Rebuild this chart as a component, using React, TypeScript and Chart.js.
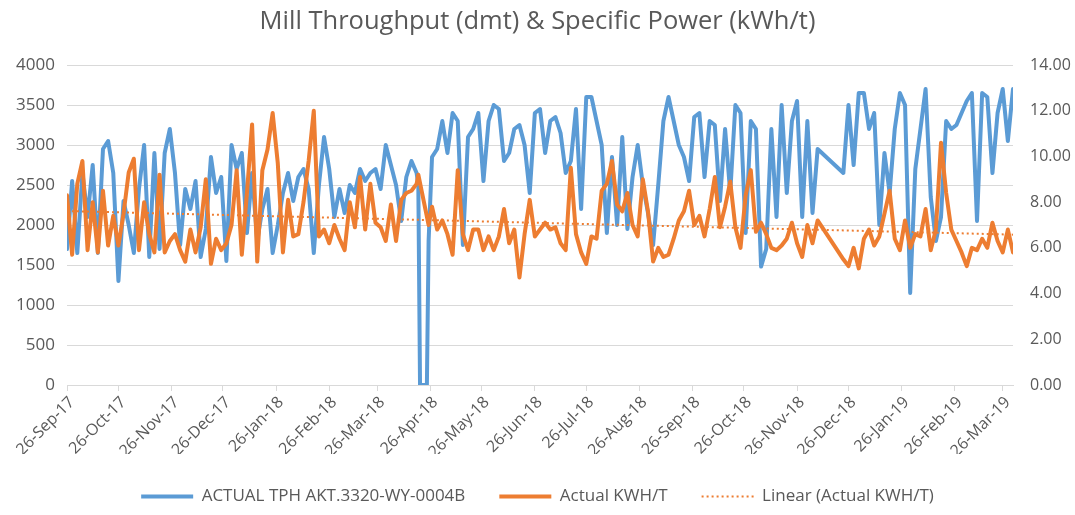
import React, { useEffect, useRef } from "react";
import { Chart, registerables } from "chart.js";

Chart.register(...registerables);

const START_DATE = new Date(2017, 8, 26);
const AXIS_END_DAY = 552;

const dayOffsets: number[] = [
  0, 3, 6, 9, 12, 15, 18, 21, 24, 27, 30, 33, 36, 39, 42, 45, 48, 51, 54, 57,
  60, 63, 66, 69, 72, 75, 78, 81, 84, 87, 90, 93, 96, 99, 102, 105, 108, 111, 114, 117,
  120, 123, 126, 129, 132, 135, 138, 141, 144, 147, 150, 153, 156, 159, 162, 165, 168, 171, 174, 177,
  180, 183, 186, 189, 192, 195, 198, 201, 204, 205, 206, 207, 210, 211, 213, 216, 219, 222, 225, 228,
  231, 234, 237, 240, 243, 246, 249, 252, 255, 258, 261, 264, 267, 270, 273, 276, 279, 282, 285, 288,
  291, 294, 297, 300, 303, 306, 309, 312, 315, 318, 321, 324, 327, 330, 333, 336, 339, 342, 345, 348,
  351, 354, 357, 360, 363, 366, 369, 372, 375, 378, 381, 384, 387, 390, 393, 396, 399, 402, 405, 408,
  411, 414, 417, 420, 423, 426, 429, 432, 435, 438, 441, 444, 447, 450, 453, 456, 459, 462, 465, 468,
  471, 474, 477, 480, 483, 486, 489, 492, 495, 498, 501, 504, 507, 510, 513, 516, 519, 522, 525, 528,
  531, 534, 537, 540, 543, 546, 549, 552,
];

const actualTph: (number | null)[] = [
  1700, 2550, 1650, 2650, 2100, 2750, 1650, 2950, 3050, 2650, 1300, 2300, 2000, 1650, 2450, 3000, 1600, 2900, 1700, 2900,
  3200, 2650, 1750, 2450, 2200, 2550, 1600, 1950, 2850, 2400, 2600, 1550, 3000, 2700, 2900, 1900, 2650, 1800, 2200, 2450,
  1650, 2000, 2400, 2650, 2300, 2600, 2700, 2450, 1650, 2500, 3100, 2700, 2100, 2450, 2150, 2500, 2400, 2700, 2550, 2650,
  2700, 2450, 3000, 2750, 2500, 2050, 2600, 2800, 2650, 2500, 0, 0, 0, 1800, 2850, 2950, 3300, 2900, 3400, 3300,
  1750, 3100, 3200, 3400, 2550, 3300, 3500, 3450, 2800, 2900, 3200, 3250, 3000, 2400, 3400, 3450, 2900, 3300, 3350, 3150,
  2650, 2800, 3450, 2200, 3600, 3600, 3300, 3000, 1900, 2850, 2000, 3100, 1950, 2600, 3000, 2500, 2150, 1750, 2500, 3300,
  3600, 3300, 3000, 2850, 2550, 3350, 3400, 2600, 3300, 3250, 2300, 3200, 2400, 3500, 3400, 1900, 3300, 3200, 1480, 1700,
  3200, 2100, 3500, 2400, 3300, 3550, 2100, 3300, 2150, 2950, null, null, null, null, 2650, 3500, 2750, 3650, 3650, 3200,
  3400, 2000, 2900, 2400, 3200, 3650, 3500, 1150, 2700, 3200, 3700, 2350, 1800, 2100, 3300, 3200, 3250, 3400, 3550, 3650,
  2050, 3650, 3600, 2650, 3400, 3700, 3050, 3700,
];

const actualKwhT: (number | null)[] = [
  8.3, 5.7, 8.8, 9.8, 5.9, 8.0, 5.8, 8.5, 6.1, 7.4, 6.1, 7.5, 9.3, 9.9, 5.9, 8.0, 6.6, 5.8, 9.2, 5.8,
  6.3, 6.6, 5.9, 5.4, 6.8, 5.8, 6.9, 9.0, 5.3, 6.4, 5.9, 6.2, 7.0, 9.4, 5.7, 8.4, 11.4, 5.4, 9.4, 10.3,
  11.9, 9.7, 5.8, 8.1, 6.5, 6.6, 8.0, 9.8, 12.0, 6.5, 6.8, 6.2, 7.0, 6.4, 5.9, 8.0, 6.9, 9.1, 6.8, 8.8,
  7.1, 6.9, 6.3, 7.9, 6.3, 8.1, 8.4, 8.5, 8.8, 9.2, null, null, null, 7.0, 7.8, 6.8, 7.2, 6.6, 5.7, 9.4,
  6.6, 5.9, 6.8, 6.8, 5.9, 6.5, 5.9, 6.5, 7.7, 6.2, 6.8, 4.7, 6.6, 8.1, 6.5, 6.8, 7.1, 6.8, 6.9, 6.2,
  5.9, 9.5, 6.6, 5.8, 5.3, 6.5, 6.4, 8.5, 8.8, 9.8, 7.9, 7.6, 8.4, 7.0, 6.5, 9.0, 7.6, 5.4, 6.0, 5.6,
  5.7, 6.4, 7.2, 7.6, 8.5, 7.0, 7.4, 6.5, 7.7, 9.1, 6.9, 7.8, 8.9, 6.9, 6.0, 8.3, 9.4, 6.7, 7.1, 6.6,
  6.0, 5.9, 6.1, 6.4, 7.1, 6.2, 5.6, 7.0, 6.2, 7.2, null, null, null, null, 5.5, 5.2, 6.0, 5.1, 6.4, 6.8,
  6.1, 6.5, 7.5, 8.5, 6.4, 5.9, 7.2, 6.0, 6.6, 6.5, 7.7, 5.9, 6.8, 10.6, 8.4, 6.8, 6.3, 5.8, 5.2, 6.0,
  5.9, 6.4, 6.0, 7.1, 6.3, 5.8, 6.8, 5.8,
];

const seriesNames: string[] = [
  "ACTUAL TPH AKT.3320-WY-0004B",
  "Actual KWH/T",
  "Linear (Actual KWH/T)",
];

const monthNames: string[] = ["Jan", "Feb", "Mar", "Apr", "May", "Jun", "Jul", "Aug", "Sep", "Oct", "Nov", "Dec"];

const FONT = "'Open Sans', 'Noto Sans', sans-serif";
const TEXT = "#595959";
const BLUE = "#5B9BD5";
const ORANGE = "#ED7D31";

function dayOf(d: Date): number {
  return Math.round((d.getTime() - START_DATE.getTime()) / 86400000);
}

function tickInfo() {
  const out: { day: number; label: string }[] = [];
  for (let m = 0; m < 19; m++) {
    const d = new Date(2017, 8 + m, 26);
    const label = `26-${monthNames[d.getMonth()]}-${String(d.getFullYear()).slice(2)}`;
    out.push({ day: dayOf(d), label });
  }
  return out;
}

function linearFit(xs: number[], ys: (number | null)[]) {
  let n = 0, sx = 0, sy = 0, sxx = 0, sxy = 0;
  xs.forEach((x, i) => {
    const y = ys[i];
    if (y === null || y === undefined) return;
    n++; sx += x; sy += y; sxx += x * x; sxy += x * y;
  });
  const b = (n * sxy - sx * sy) / (n * sxx - sx * sx);
  const a = (sy - b * sx) / n;
  return { a, b };
}

export default function App() {
  const ref = useRef<HTMLCanvasElement | null>(null);

  useEffect(() => {
    if (!ref.current) return;
    const ticks = tickInfo();
    const labelMap = new Map<number, string>(ticks.map((t) => [t.day, t.label]));
    const fit = linearFit(dayOffsets, actualKwhT);
    const firstDay = dayOffsets[0];
    const lastDay = dayOffsets[dayOffsets.length - 1];

    const chart = new Chart(ref.current, {
      type: "line",
      data: {
        datasets: [
          {
            label: seriesNames[0],
            data: dayOffsets.map((d, i) => ({ x: d, y: actualTph[i] })) as any,
            borderColor: BLUE,
            backgroundColor: BLUE,
            borderWidth: 4,
            pointRadius: 0,
            tension: 0,
            spanGaps: true,
            borderJoinStyle: "round",
            borderCapStyle: "round",
            yAxisID: "y",
            order: 2,
          },
          {
            label: seriesNames[1],
            data: dayOffsets.map((d, i) => ({ x: d, y: actualKwhT[i] })) as any,
            borderColor: ORANGE,
            backgroundColor: ORANGE,
            borderWidth: 4,
            pointRadius: 0,
            tension: 0,
            spanGaps: true,
            borderJoinStyle: "round",
            borderCapStyle: "round",
            yAxisID: "y1",
            order: 1,
          },
          {
            label: seriesNames[2],
            data: [
              { x: firstDay, y: fit.a + fit.b * firstDay },
              { x: lastDay, y: fit.a + fit.b * lastDay },
            ],
            borderColor: ORANGE,
            backgroundColor: ORANGE,
            borderWidth: 2,
            borderDash: [2, 3],
            pointRadius: 0,
            yAxisID: "y1",
            order: 0,
          },
        ],
      },
      options: {
        responsive: false,
        animation: false,
        events: [],
        layout: { padding: { left: 0, right: 0, top: 0, bottom: 0 } },
        plugins: {
          title: {
            display: true,
            text: "Mill Throughput (dmt) & Specific Power (kWh/t)",
            color: TEXT,
            font: { family: FONT, size: 25.5, weight: "normal", lineHeight: 1.2 },
            padding: { top: 6, bottom: 28.4 },
          },
          legend: {
            position: "bottom",
            labels: {
              color: TEXT,
              font: { family: FONT, size: 17 },
              usePointStyle: true,
              pointStyle: "line",
              pointStyleWidth: 52,
              padding: 34,
              sort: (a: any, b: any) => a.datasetIndex - b.datasetIndex,
              generateLabels: (c: any) => {
                const items = Chart.defaults.plugins.legend.labels.generateLabels(c);
                return items.map((it: any) => {
                  const ds: any = c.data.datasets[it.datasetIndex];
                  return {
                    ...it,
                    lineWidth: ds.borderWidth,
                    lineDash: ds.borderDash || [],
                    lineCap: "butt",
                    strokeStyle: ds.borderColor,
                  };
                });
              },
            },
          },
          tooltip: { enabled: false },
        },
        scales: {
          x: {
            type: "linear",
            min: 0,
            max: AXIS_END_DAY,
            afterBuildTicks: (scale: any) => {
              scale.ticks = ticks.map((t) => ({ value: t.day }));
            },
            afterFit: (scale: any) => { scale.height = 69; },
            ticks: {
              autoSkip: false,
              minRotation: 45,
              maxRotation: 45,
              color: TEXT,
              font: { family: FONT, size: 16 },
              padding: 2,
              labelOffset: 5,
              callback: (v: any) => labelMap.get(Number(v)) ?? "",
            },
            grid: { drawOnChartArea: false, drawTicks: true, tickLength: 6, color: "#d9d9d9" },
            border: { display: true, color: "#d9d9d9" },
          },
          y: {
            position: "left",
            min: 0,
            max: 4000,
            ticks: {
              stepSize: 500,
              color: TEXT,
              font: { family: FONT, size: 17 },
              padding: 12,
              callback: (v: any) => String(v),
            },
            grid: { color: "#d9d9d9", drawTicks: false },
            border: { display: false },
            afterFit: (scale: any) => { scale.width = 67; },
          },
          y1: {
            position: "right",
            min: 0,
            max: 14,
            ticks: {
              stepSize: 2,
              color: TEXT,
              font: { family: FONT, size: 16 },
              padding: 17,
              callback: (v: any) => Number(v).toFixed(2),
            },
            grid: { display: false, drawTicks: false },
            border: { display: false },
            afterFit: (scale: any) => { scale.width = 62; },
          },
        },
      },
    } as any);
    return () => chart.destroy();
  }, []);

  return (
    <div style={{ position: "fixed", left: 0, top: 0, width: 1075, height: 515, background: "#fff" }}>
      <canvas ref={ref} width={1075} height={515} style={{ display: "block" }} />
    </div>
  );
}
